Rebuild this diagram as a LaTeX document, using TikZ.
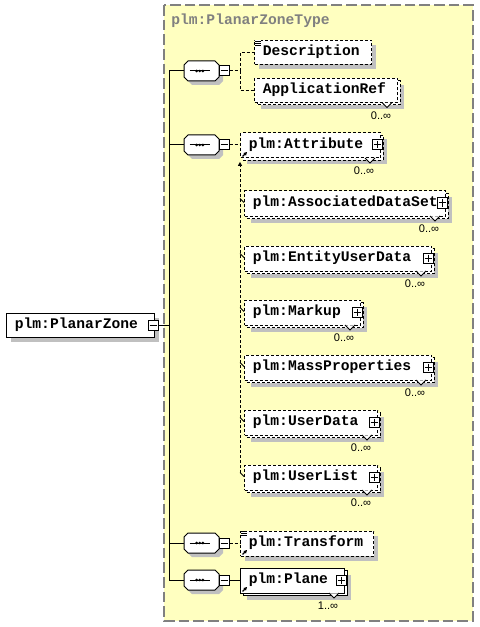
\documentclass[tikz,border=0pt]{standalone}
\usepackage{fontspec}
\setmonofont{Liberation Mono}
\newfontfamily\multfont{Liberation Sans}
\usetikzlibrary{arrows.meta}
\definecolor{shgray}{RGB}{192,192,192}
\definecolor{bgyellow}{RGB}{255,255,192}
\definecolor{hdrgray}{RGB}{128,128,128}
\tikzset{
  conn/.style={line width=0.75pt},
  optdash/.style={dash pattern=on 2.25pt off 1.5pt},
  optconn/.style={conn, optdash},
  elbox/.style={draw=black, fill=white, line width=0.75pt, inner sep=0, anchor=north west},
  optbox/.style={elbox, optdash},
  eltext/.style={font=\ttfamily\bfseries\fontsize{11}{13}\selectfont, anchor=base west, inner sep=0},
  hdrtext/.style={eltext, text=hdrgray},
  multlabel/.style={font=\multfont\fontsize{8.3}{10}\selectfont, inner sep=0},
  pmbox/.style={draw=black, fill=white, line width=0.75pt, minimum size=7.5pt, inner sep=0},
  compbox/.style={inner sep=0, minimum width=26.25pt, minimum height=15pt},
  octo/.style={draw=black, fill=white, line width=0.75pt},
  typebox/.style={fill=bgyellow, draw=hdrgray, line width=1pt, dash pattern=on 8pt off 3pt},
  refarrow/.style={line width=1pt, -{Triangle[length=2.5pt,width=2.5pt]}},
  subarrow/.style={conn, optdash, -{Triangle[length=3pt,width=3pt]}},
}
\newcommand\placebox[6]{\node[#6, minimum width={0.75*(#4-#2)}, minimum height={0.75*(#5-#3)}] (#1) at (#2,#3) {};}
\newcommand\plusmark[1]{\draw[conn] ([yshift=-1.5pt]#1.north) -- ([yshift=1.5pt]#1.south); \draw[conn] ([xshift=1.5pt]#1.west) -- ([xshift=-1.5pt]#1.east);}
\newcommand\minusmark[1]{\draw[conn] ([xshift=1.5pt]#1.west) -- ([xshift=-1.5pt]#1.east);}
\newcommand\selem[7]{%
  \fill[shgray] (#2+5,#3+5) rectangle (#4+5,#5+5);
  \placebox{#1}{#2}{#3}{#4}{#5}{#6}
  \node[eltext] (#1-t) at ([xshift=6.4pt,yshift=-2.6pt]#1.west) {#7};}
\newcommand\melem[8]{%
  \fill[shgray] (#2+7,#3+7) rectangle (#4+7,#5+7);
  \path[#6] (#2+3,#3+3) rectangle (#4+3,#5+3);
  \placebox{#1}{#2}{#3}{#4}{#5}{#6}
  \fill[white] ({#4-15},{#5+0.9}) -- ({#4-10},{#5+5.5}) -- ({#4-5},{#5+0.9}) -- cycle;
  \draw[conn] ({#4-15},{#5+0.5}) -- ({#4-10},{#5+5.5}) -- ({#4-5},{#5+0.5});
  \node[multlabel] (#1-n) at ({#4-16},{#5+13.5}) {#8};
  \node[eltext] (#1-t) at ([xshift=6.4pt,yshift=-2.6pt]#1.west) {#7};}
\newcommand\pluson[3]{\node[pmbox] (#1-p) at ({#2-3},#3) {}; \plusmark{#1-p}}
\newcommand\octpath[3]{(#1+4,#2-10+#3) -- (#1+31,#2-10+#3) -- (#1+35,#2-6+#3) -- (#1+35,#2+6+#3) -- (#1+31,#2+10+#3) -- (#1+4,#2+10+#3) -- (#1,#2+6+#3) -- (#1,#2-6+#3) -- cycle}
\newcommand\seq[2]{%
  \fill[shgray] \octpath{188}{#2}{4};
  \draw[octo] \octpath{184}{#2}{0};
  \node[compbox] (#1) at (201.5,#2) {};
  \draw[conn] ([xshift=-9pt]#1.center) -- ([xshift=6.4pt]#1.center);
  \fill ([xshift=-3.6pt]#1.center) circle (1.1pt) ([xshift=-1.3pt]#1.center) circle (1.1pt) ([xshift=1pt]#1.center) circle (1.1pt);
  \node[pmbox] (#1-m) at (224,#2) {}; \minusmark{#1-m}
  \draw[conn] (#1.west -| t1) -- (#1.west);}
\newcommand\docicon[1]{%
  \fill[white] ([shift={(0.4pt,-0.3pt)}]#1.north west) rectangle ++(4.8pt,-3.9pt);
  \foreach \d in {0.75,2.25,3.75} {\draw[line width=0.6pt] ([shift={(1.1pt,-\d pt)}]#1.north west) -- ++(3.8pt,0);}}
\newcommand\refmark[1]{\draw[refarrow] ([shift={(1.9pt,1.5pt)}]#1.south west) -- ++(3.4pt,3.4pt);}
\newcommand\subtick[1]{\draw[conn] ([shift={(-3pt,-6pt)}]#1.north west) -- ++(3pt,-3pt);}

\begin{document}
\begin{tikzpicture}[x=0.75pt,y=-0.75pt]
\useasboundingbox (0,0) rectangle (479,627);
% complex type frame
\draw[typebox] (164,5) rectangle (473,621);
\node[hdrtext] (hdr) at (171,25) {plm:PlanarZoneType};

% root element
\selem{pz}{6}{313}{154}{337}{elbox}{plm:PlanarZone}
\node[pmbox] (pz-m) at (153,325) {}; \minusmark{pz-m}

\coordinate (t1) at (169,71);
\coordinate (t4) at (169,580);
\draw[conn] (t1) -- (t4);
\draw[conn] (pz-m.east) -- (pz-m.east -| t1);

% sequences
\seq{s1}{71}
\seq{s2}{145}
\seq{s3}{543}
\seq{s4}{580}

% sequence 1
\selem{desc}{254}{40}{371}{64}{optbox}{Description}
\docicon{desc}
\melem{appref}{254}{78}{397}{102}{optbox}{ApplicationRef}{0..∞}
\coordinate (j1) at (240,71);
\draw[optconn] (s1-m.east) -- (j1);
\draw[optconn] (j1) |- (desc.west);
\draw[optconn] (j1) |- (appref.west);

% sequence 2
\melem{attr}{240}{132.5}{380}{157.5}{optbox}{plm:Attribute}{0..∞}
\pluson{attr}{380}{145}
\refmark{attr}
\draw[optconn] (s2-m.east) -- (s2-m.east -| attr.west);

\melem{ads}{244}{190.5}{445}{215.5}{optbox}{plm:AssociatedDataSet}{0..∞}
\pluson{ads}{445}{203}
\melem{eud}{244}{245.5}{431}{270.5}{optbox}{plm:EntityUserData}{0..∞}
\pluson{eud}{431}{258}
\melem{markup}{244}{299.5}{360}{324.5}{optbox}{plm:Markup}{0..∞}
\pluson{markup}{360}{312}
\melem{massp}{244}{354.5}{431}{379.5}{optbox}{plm:MassProperties}{0..∞}
\pluson{massp}{431}{367}
\melem{udata}{244}{409.5}{377}{434.5}{optbox}{plm:UserData}{0..∞}
\pluson{udata}{377}{422}
\melem{ulist}{244}{464.5}{377}{489.5}{optbox}{plm:UserList}{0..∞}
\pluson{ulist}{377}{477}

\coordinate (sgend) at (240,472.5);
\draw[subarrow] (sgend) -- ([yshift=-2.5pt]attr.south west);
\subtick{ads}
\subtick{eud}
\subtick{markup}
\subtick{massp}
\subtick{udata}
\subtick{ulist}

% sequence 3
\selem{trans}{240}{530.5}{373}{555.5}{optbox}{plm:Transform}
\docicon{trans}
\refmark{trans}
\draw[optconn] (s3-m.east) -- (s3-m.east -| trans.west);

% sequence 4
\melem{plane}{240}{567.5}{344}{592.5}{elbox}{plm:Plane}{1..∞}
\pluson{plane}{344}{580}
\refmark{plane}
\draw[conn] (s4-m.east) -- (s4-m.east -| plane.west);
\end{tikzpicture}
\end{document}
